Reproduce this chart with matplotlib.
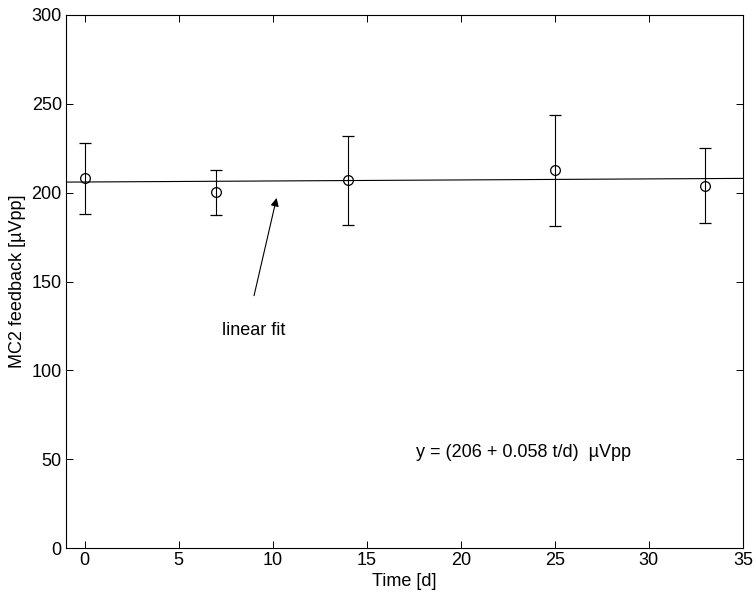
import matplotlib
matplotlib.use("Agg")
import matplotlib.pyplot as plt
import numpy as np

plt.rcParams['font.family'] = ['Liberation Sans', 'DejaVu Sans']

# measurements
days = [0, 7, 14, 25, 33]
feedback = [208, 200.3, 207, 212.5, 204]
err = [20, 12.6, 25, 31, 21.3]

# linear fit y = a + b t
fit_a = 206
fit_b = 0.058
fit_t = [-1, 35]

fig = plt.figure(figsize=(7.55, 5.99), dpi=100)
ax = fig.add_axes([0.0874, 0.0851, 0.8966, 0.8899])

fit_y = [fit_a + fit_b * t for t in fit_t]
ax.plot(fit_t, fit_y, color='black', lw=0.8)

ax.errorbar(days, feedback, yerr=err, fmt='o', mfc='none', mec='black',
            ms=7, mew=0.9, ecolor='black', elinewidth=0.8, capsize=4.3, capthick=0.8)

ax.annotate('', xy=(10.2, 197), xytext=(9.0, 142),
            arrowprops=dict(arrowstyle='-|>', color='black', lw=0.8,
                            mutation_scale=12, shrinkA=0, shrinkB=0))
ax.text(7.3, 122.5, 'linear fit', fontsize=13, ha='left', va='center')
ax.text(17.6, 53.5, 'y = (206 + 0.058 t/d)  \u00b5Vpp', fontsize=13, ha='left', va='center')

ax.set_xlim(-1, 35)
ax.set_ylim(0, 300)
ax.set_xticks(np.arange(0, 36, 5))
ax.set_yticks(np.arange(0, 301, 50))
ax.tick_params(direction='in', top=True, right=True, labelsize=13, length=5, width=0.7, pad=3)
for s in ax.spines.values():
    s.set_linewidth(0.8)

ax.set_xlabel('Time [d]', fontsize=13, labelpad=3)
ax.set_ylabel('MC2 feedback [\u00b5Vpp]', fontsize=13, labelpad=4)

fig.savefig('out.png', dpi=100)
